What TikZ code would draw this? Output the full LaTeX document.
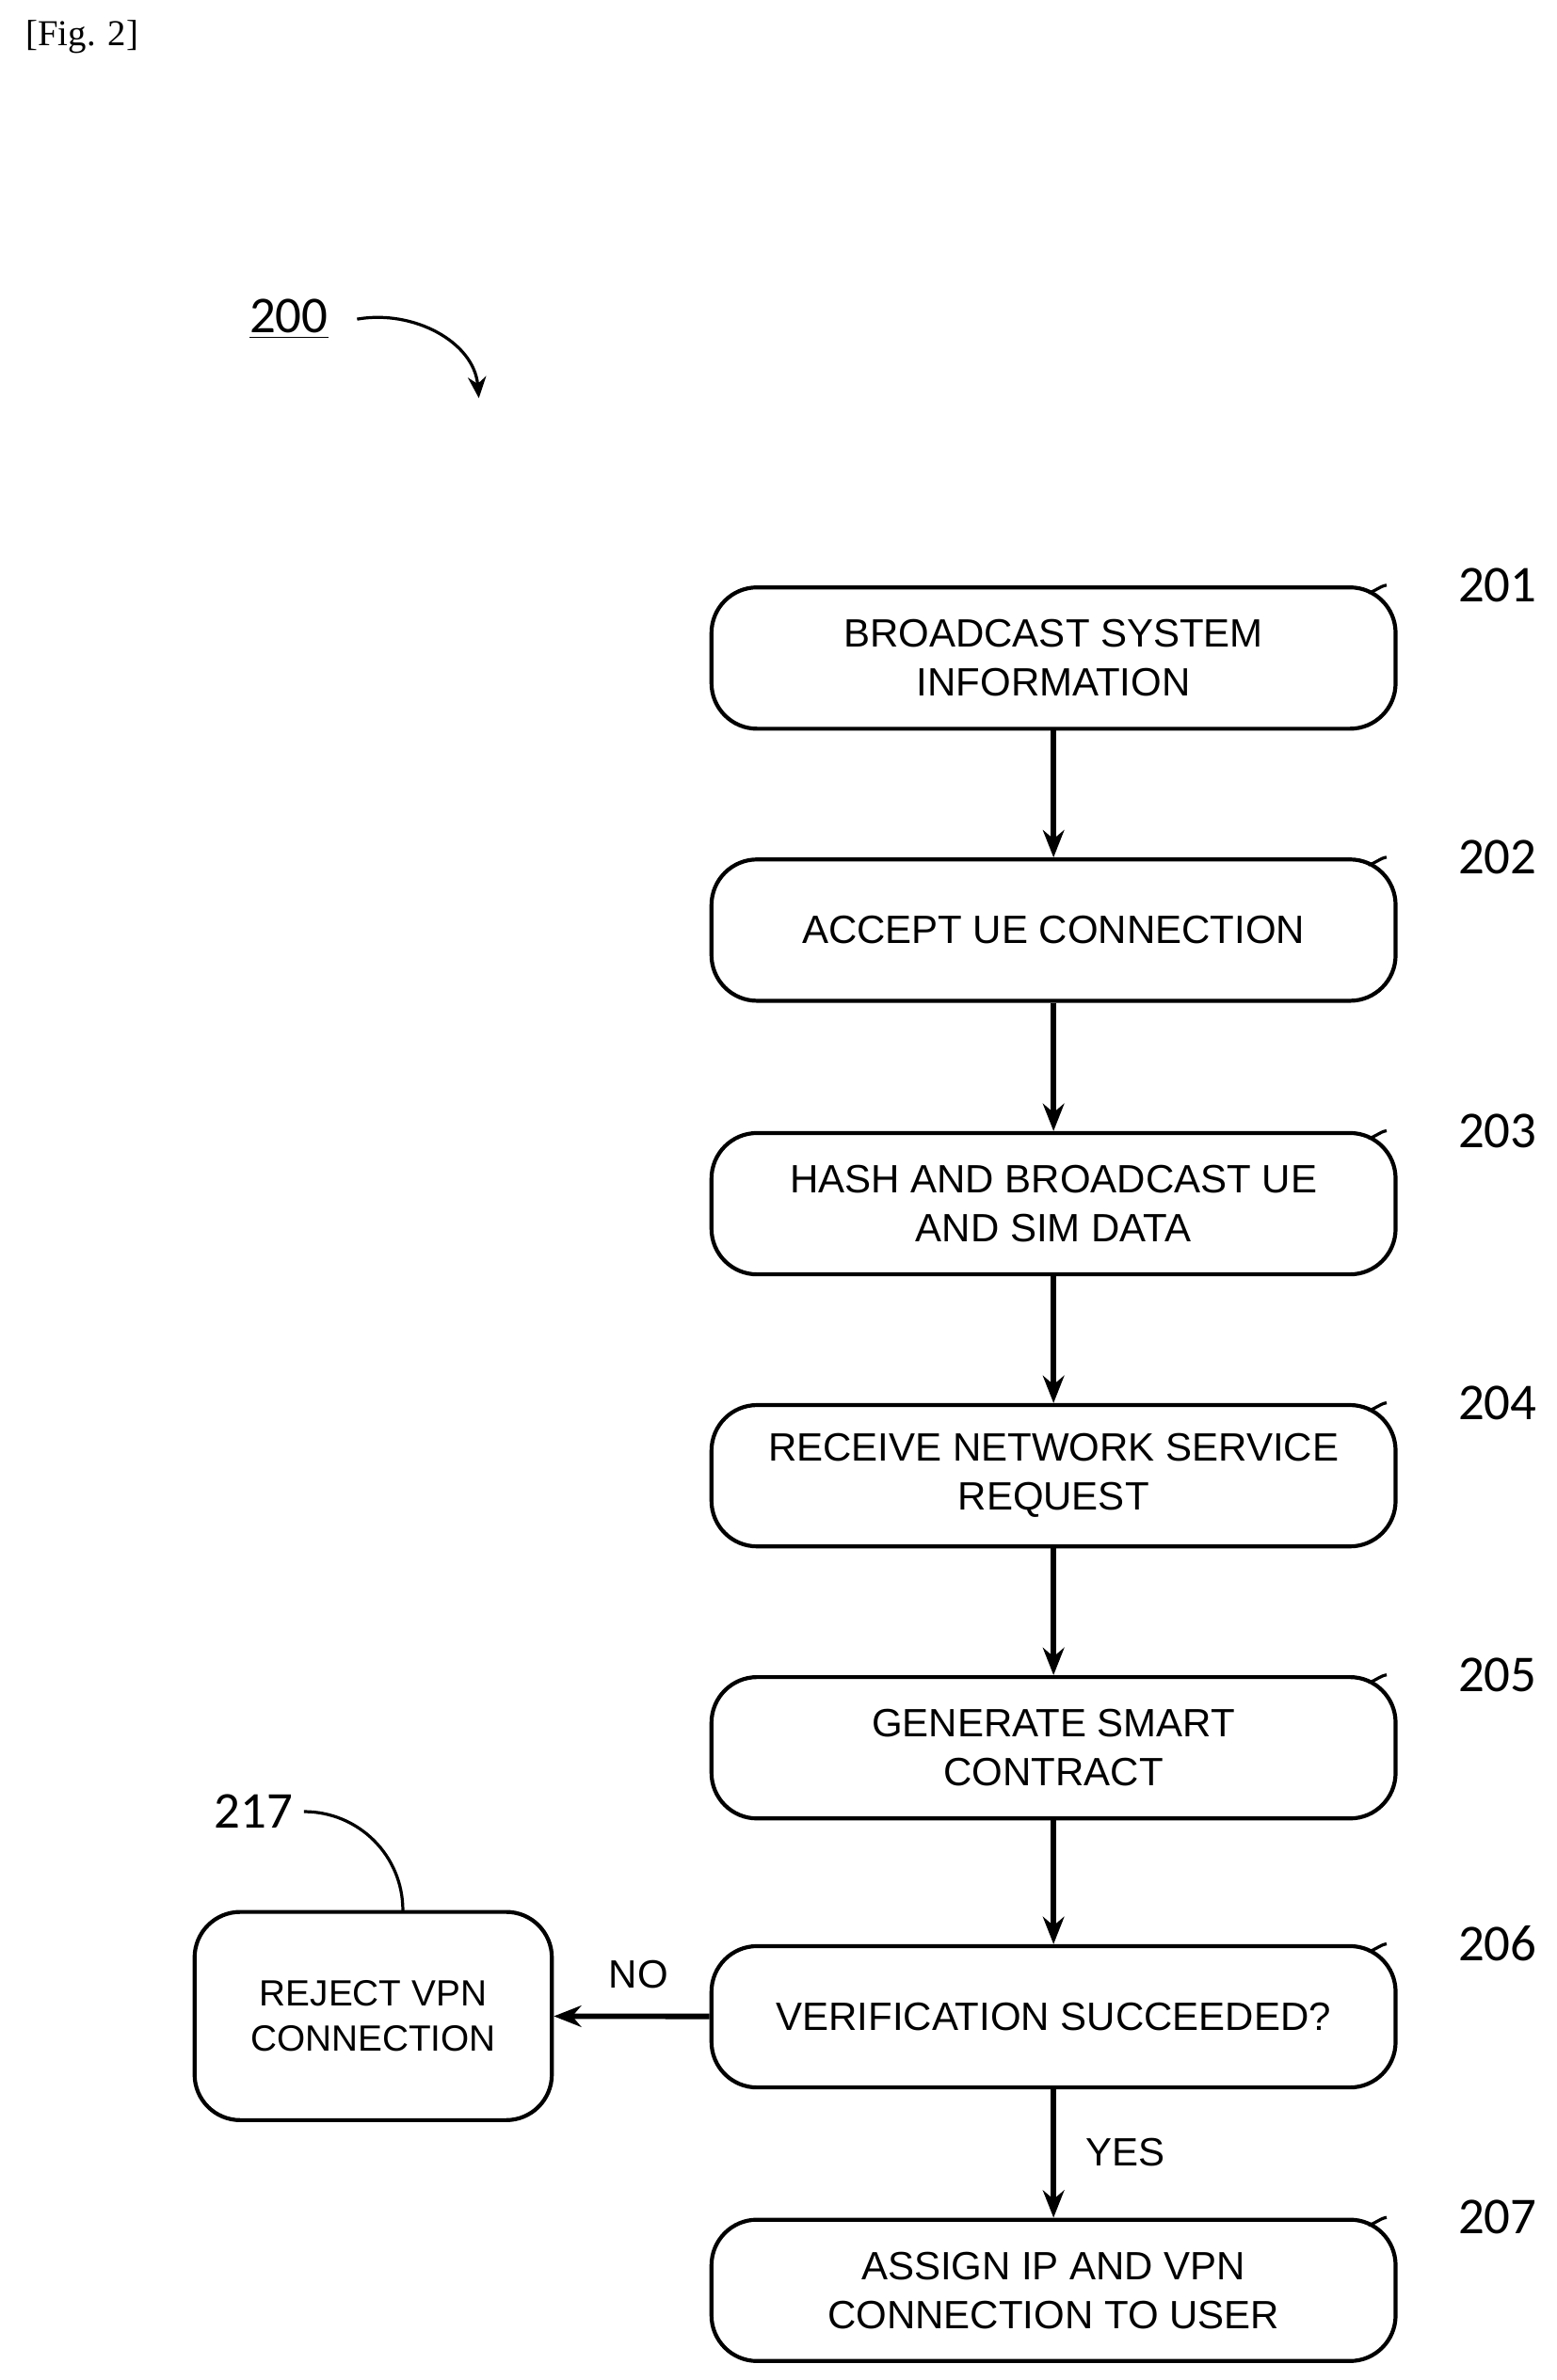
\documentclass[tikz,border=0pt]{standalone}
\usepackage{fontspec}
\setmainfont{Liberation Sans}
\newfontfamily\numf{Carlito}
\newfontfamily\serf{Liberation Serif}
\usetikzlibrary{arrows.meta}
\begin{document}
\begin{tikzpicture}[x=0.5pt,y=-0.5pt,
  box/.style={draw,line width=1.3pt,rounded corners=15pt,align=center,font=\fontsize{13}{16}\selectfont,inner sep=0pt},
  arr/.style={line width=1.8pt,-{Stealth[length=9pt,width=7pt]}},
  lead/.style={line width=1pt},
  num/.style={font=\numf\fontsize{17}{20}\selectfont}]
\useasboundingbox (0,0) rectangle (1024,1566);
\node[font=\serf\fontsize{12}{14}\selectfont] (fig) at (54,24) {[Fig. 2]};
\foreach \n/\y/\t in {201/433/{BROADCAST SYSTEM\\INFORMATION},202/612/{ACCEPT UE CONNECTION},203/792/{HASH AND BROADCAST UE\\AND SIM DATA},204/971/{RECEIVE NETWORK SERVICE\\REQUEST},205/1150/{GENERATE SMART\\CONTRACT},206/1327/{VERIFICATION SUCCEEDED?},207/1507/{ASSIGN IP AND VPN\\CONNECTION TO USER}}{
  \node[box,minimum width=225pt,minimum height=46.5pt] (b\n) at (693,\y) {\t};
  \node[num] (l\n) at (985,\y-48) {\n};
  \coordinate (c\n) at (900,\y-43);
  \draw[lead] (c\n) to[out=10,in=190] ([xshift=-20]l\n.west);
}
\node[box,minimum width=117.5pt,minimum height=68.5pt,font=\fontsize{12}{15}\selectfont] (b217) at (245.5,1326.5) {REJECT VPN\\CONNECTION};
\node[num] (l217) at (167,1192) {217};
\coordinate (c217) at (265,1257);
\draw[lead] (l217.east) to[out=0,in=90] (c217);
\foreach \a/\b in {201/202,202/203,203/204,204/205,205/206,206/207}{\draw[arr] (b\a) -- (b\b);}
\draw[arr] (b206) -- (b217);
\node[font=\fontsize{13}{16}\selectfont] (no) at (420,1299) {NO};
\node[font=\fontsize{13}{16}\selectfont] (yes) at (740,1416) {YES};
\node[num] (l200) at (190,210) {\underline{200}};
\coordinate (e200) at (315,262);
\draw[lead,-{Stealth[length=7pt,width=6pt]}] ([xshift=6]l200.east) to[out=10,in=95] (e200);
\end{tikzpicture}
\end{document}
